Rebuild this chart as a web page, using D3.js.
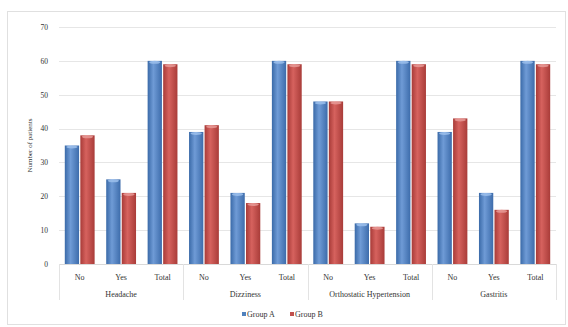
<!DOCTYPE html>
<html><head><meta charset="utf-8">
<script src="https://cdn.jsdelivr.net/npm/d3@7"></script>
<style>body{margin:0;background:#fff}svg{display:block}text{font-family:"Liberation Serif","Times New Roman",serif;fill:#333}</style>
</head><body>
<script>
const groups = ["Headache","Dizziness","Orthostatic Hypertension","Gastritis"];
const subcats = ["No","Yes","Total"];
const seriesNames = ["Group A","Group B"];
const groupA = [35,25,60, 39,21,60, 48,12,60, 39,21,60];
const groupB = [38,21,59, 41,18,59, 48,11,59, 43,16,59];
const yTicks = [0,10,20,30,40,50,60,70];
const colors = ["#4f81bd","#c0504d"];

const W=568,H=327;
const svg=d3.select("body").append("svg").attr("width",W).attr("height",H);
const defs=svg.append("defs");
[["gA","#3a6aa8","#6f9bd6","#3d6cab"],["gB","#a83b38","#d6625e","#a93c39"]].forEach(([id,c1,c2,c3])=>{
  const g=defs.append("linearGradient").attr("id",id).attr("x1","0").attr("x2","1").attr("y1","0").attr("y2","0");
  g.append("stop").attr("offset","0%").attr("stop-color",c1);
  g.append("stop").attr("offset","40%").attr("stop-color",c2);
  g.append("stop").attr("offset","100%").attr("stop-color",c3);
});
svg.append("rect").attr("x",7.5).attr("y",11.5).attr("width",W-10).attr("height",H-14).attr("fill","#fff").attr("stroke","#e0e0e0");

const x0=59,x1=556,yTop=27,yBot=264;
const y=d3.scaleLinear().domain([0,70]).range([yBot,yTop]);
const cats=d3.range(12);
const x=d3.scaleBand().domain(cats).range([x0,x1]).paddingInner(0.28).paddingOuter(0.14);
const xs=d3.scaleBand().domain([0,1]).range([0,x.bandwidth()]).paddingInner(0.08);

// gridlines
svg.append("g").selectAll("line").data(yTicks.slice(1)).join("line")
  .attr("x1",x0).attr("x2",x1).attr("y1",d=>Math.round(y(d))+0.5).attr("y2",d=>Math.round(y(d))+0.5)
  .attr("stroke","#e6e6e6");
// y axis
const ya=svg.append("g").attr("transform",`translate(${x0},0)`).call(d3.axisLeft(y).tickValues(yTicks).tickSize(0).tickPadding(11));
ya.select(".domain").remove();
ya.selectAll("text").attr("font-size",7.5).style("font-family","Liberation Serif");
svg.append("text").attr("transform",`translate(32,${(yTop+yBot)/2}) rotate(-90)`).attr("text-anchor","middle")
  .attr("font-size",7).text("Number of patients");

// bars
const data=cats.map(i=>[groupA[i],groupB[i]]);
const gg=svg.append("g").selectAll("g").data(data).join("g").attr("transform",(d,i)=>`translate(${x(i)},0)`);
gg.selectAll("rect").data(d=>d).join("rect")
  .attr("x",(d,j)=>xs(j)).attr("width",xs.bandwidth())
  .attr("y",d=>y(d)).attr("height",d=>yBot-y(d))
  .attr("fill",(d,j)=>`url(#${j?"gB":"gA"})`);
gg.selectAll("ellipse").data(d=>d).join("ellipse")
  .attr("cx",(d,j)=>xs(j)+xs.bandwidth()/2).attr("cy",d=>y(d)+1.5).attr("rx",xs.bandwidth()/2-1.5).attr("ry",1.5)
  .attr("fill",(d,j)=>j?"#e89a97":"#9cc0ec").attr("opacity",0.85);

// x axis
svg.append("line").attr("x1",x0).attr("x2",x1).attr("y1",yBot+0.5).attr("y2",yBot+0.5).attr("stroke","#d9d9d9");
const step=(x1-x0)/4;
d3.range(5).forEach(k=>{
  svg.append("line").attr("x1",Math.round(x0+k*step)+0.5).attr("x2",Math.round(x0+k*step)+0.5)
    .attr("y1",yBot).attr("y2",300).attr("stroke","#e3e3e3");
});
svg.append("g").selectAll("text").data(cats).join("text")
  .attr("x",i=>x(i)+x.bandwidth()/2).attr("y",280).attr("text-anchor","middle").attr("font-size",8)
  .text(i=>subcats[i%3]);
svg.append("g").selectAll("text").data(groups).join("text")
  .attr("x",(d,k)=>x0+(k+0.5)*step).attr("y",297).attr("text-anchor","middle").attr("font-size",8)
  .text(d=>d);

// legend
const lg=svg.append("g").attr("transform","translate(242,317)");
seriesNames.forEach((n,i)=>{
  const g=lg.append("g").attr("transform",`translate(${i*48},0)`);
  g.append("rect").attr("x",0).attr("y",-5).attr("width",4).attr("height",4).attr("fill",colors[i]);
  g.append("text").attr("x",5).attr("y",0).attr("font-size",8).text(n);
});
</script>
</body></html>
